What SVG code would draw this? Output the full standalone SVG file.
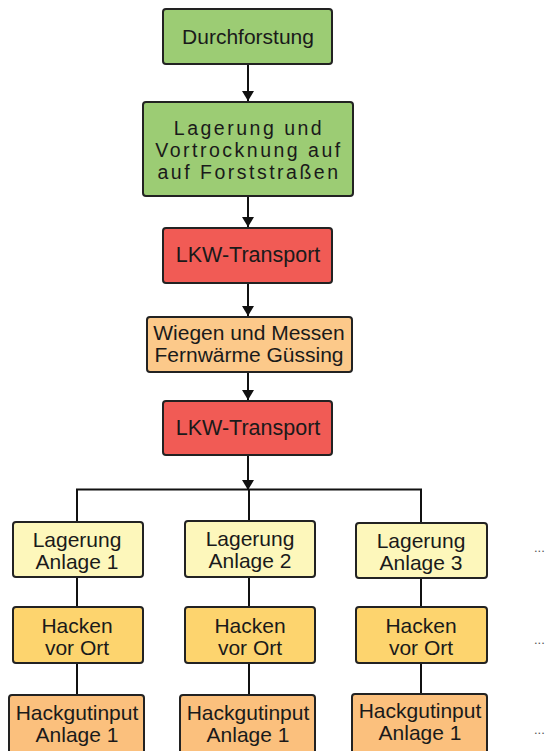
<svg xmlns="http://www.w3.org/2000/svg" width="549" height="751" viewBox="0 0 549 751">
<style>
.box{stroke:#222;stroke-width:2}
.t{font-family:"Liberation Sans",Arial,sans-serif;font-size:21px;fill:#1a1a1a;text-anchor:middle}
.l{font-size:21.5px}
.sp{font-size:19.5px;letter-spacing:2.5px}
.ln{stroke:#111;stroke-width:2;fill:none}
.dots{font-family:"Liberation Sans",Arial,sans-serif;font-size:13px;fill:#555}
</style>
<defs>
<marker id="ah" viewBox="0 0 10 12" refX="10" refY="6" markerWidth="10" markerHeight="12" markerUnits="userSpaceOnUse" orient="auto">
<path d="M0,0 L10,6 L0,12 Z" fill="#111"/>
</marker>
</defs>
<rect width="549" height="751" fill="#fff"/>
<g id="connectors">
<line class="ln" x1="248" y1="64" x2="248" y2="101" marker-end="url(#ah)"/>
<line class="ln" x1="248" y1="196" x2="248" y2="227" marker-end="url(#ah)"/>
<line class="ln" x1="248" y1="283" x2="248" y2="316" marker-end="url(#ah)"/>
<line class="ln" x1="248" y1="372" x2="248" y2="400" marker-end="url(#ah)"/>
<line class="ln" x1="248" y1="455" x2="248" y2="490" marker-end="url(#ah)"/>
<polyline class="ln" points="77,522 77,489.5 421,489.5 421,522"/>
<line class="ln" x1="249" y1="489" x2="249" y2="522"/>
<line class="ln" x1="77" y1="577" x2="77" y2="607"/>
<line class="ln" x1="249" y1="577" x2="249" y2="607"/>
<line class="ln" x1="421" y1="577" x2="421" y2="607"/>
<line class="ln" x1="77" y1="663" x2="77" y2="695"/>
<line class="ln" x1="249" y1="663" x2="249" y2="695"/>
<line class="ln" x1="421" y1="663" x2="421" y2="694"/>
</g>
<g id="durchforstung">
<rect class="box" x="163" y="9" width="169" height="55" rx="3" fill="#9ccc74"/>
<text class="t" x="248" y="44">Durchforstung</text>
</g>
<g id="lagerung-vortrocknung">
<rect class="box" x="143" y="102" width="210" height="94" rx="3" fill="#9ccc74"/>
<text class="t sp" x="249" y="135">Lagerung und</text>
<text class="t sp" x="249" y="157">Vortrocknung auf</text>
<text class="t sp" x="249" y="179">auf Forststraßen</text>
</g>
<g id="lkw1">
<rect class="box" x="163" y="228" width="169" height="55" rx="3" fill="#f15b55"/>
<text class="t l" x="248" y="262">LKW-Transport</text>
</g>
<g id="wiegen">
<rect class="box" x="147" y="317" width="205" height="55" rx="3" fill="#fcc98a"/>
<text class="t" x="249" y="340">Wiegen und Messen</text>
<text class="t" x="249" y="362">Fernwärme Güssing</text>
</g>
<g id="lkw2">
<rect class="box" x="163" y="401" width="169" height="54" rx="3" fill="#f15b55"/>
<text class="t l" x="248" y="435">LKW-Transport</text>
</g>
<g id="lagerung1">
<rect class="box" x="13" y="522" width="130" height="55" rx="3" fill="#fdf7bb"/>
<text class="t" x="77" y="547">Lagerung</text>
<text class="t" x="77" y="569">Anlage 1</text>
</g>
<g id="lagerung2">
<rect class="box" x="185" y="521" width="130" height="56" rx="3" fill="#fdf7bb"/>
<text class="t" x="250" y="546">Lagerung</text>
<text class="t" x="250" y="568">Anlage 2</text>
</g>
<g id="lagerung3">
<rect class="box" x="356" y="523" width="131" height="55" rx="3" fill="#fdf7bb"/>
<text class="t" x="421" y="548">Lagerung</text>
<text class="t" x="421" y="570">Anlage 3</text>
</g>
<g id="hacken1">
<rect class="box" x="13" y="607" width="130" height="56" rx="3" fill="#fdd46e"/>
<text class="t" x="77" y="633">Hacken</text>
<text class="t" x="77" y="655">vor Ort</text>
</g>
<g id="hacken2">
<rect class="box" x="185" y="607" width="130" height="56" rx="3" fill="#fdd46e"/>
<text class="t" x="250" y="633">Hacken</text>
<text class="t" x="250" y="655">vor Ort</text>
</g>
<g id="hacken3">
<rect class="box" x="356" y="607" width="131" height="56" rx="3" fill="#fdd46e"/>
<text class="t" x="421" y="633">Hacken</text>
<text class="t" x="421" y="655">vor Ort</text>
</g>
<g id="hackgut1">
<rect class="box" x="9" y="695" width="135" height="62" rx="3" fill="#fbc07d"/>
<text class="t" x="77" y="720">Hackgutinput</text>
<text class="t" x="77" y="742">Anlage 1</text>
</g>
<g id="hackgut2">
<rect class="box" x="180" y="695" width="135" height="62" rx="3" fill="#fbc07d"/>
<text class="t" x="248" y="720">Hackgutinput</text>
<text class="t" x="248" y="742">Anlage 1</text>
</g>
<g id="hackgut3">
<rect class="box" x="352" y="694" width="135" height="62" rx="3" fill="#fbc07d"/>
<text class="t" x="420" y="718">Hackgutinput</text>
<text class="t" x="420" y="740">Anlage 1</text>
</g>
<g id="dots">
<text class="dots" x="534" y="552">...</text>
<text class="dots" x="534" y="644">...</text>
<text class="dots" x="534" y="734">...</text>
</g>
</svg>
